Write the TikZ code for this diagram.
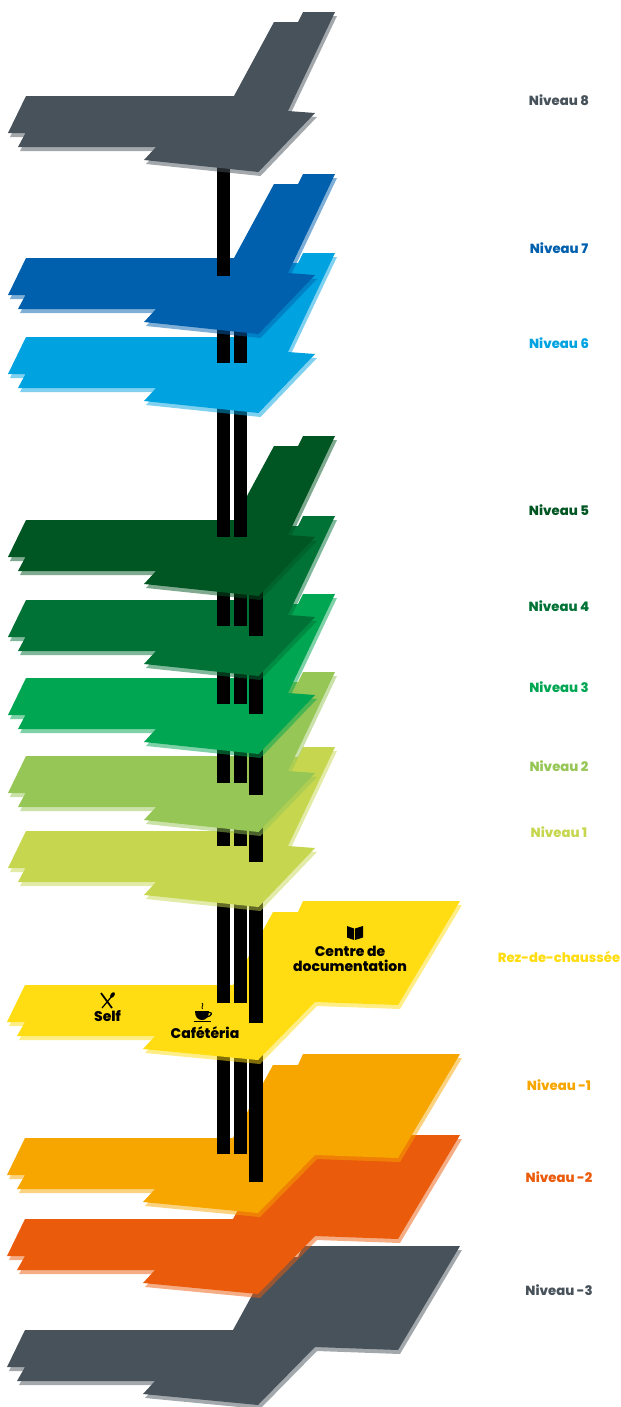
\documentclass[tikz,border=0pt]{standalone}
\usepackage{fontspec}
\setmainfont{Poppins}
\newfontfamily\grasse{Poppins ExtraBold}
\definecolor{ardoise}{HTML}{48525B}
\definecolor{bleufonce}{HTML}{0060AE}
\definecolor{bleuclair}{HTML}{00A3E0}
\definecolor{vertnuit}{HTML}{005622}
\definecolor{vertfonce}{HTML}{007236}
\definecolor{vertvif}{HTML}{00A651}
\definecolor{vertpomme}{HTML}{96C656}
\definecolor{vertanis}{HTML}{C6D74F}
\definecolor{jaune}{HTML}{FFDD12}
\definecolor{orange}{HTML}{F7A600}
\definecolor{rouille}{HTML}{EA5B0C}
% 楼层轮廓
\def\contourhaut{(26,96) -- (234,96) -- (274,22) -- (298,22) -- (303,12) -- (335,12) -- (288,111) -- (315,113) -- (258.5,172) -- (144,160) -- (156,147) -- (18,147) -- (25.5,133) -- (8,133) -- cycle}
\def\contourbas{(25,985) -- (233,985) -- (273,912) -- (298,912) -- (303,901) -- (460,901) -- (398,1005) -- (315,1002) -- (258,1060) -- (143,1049) -- (155,1036) -- (17,1036) -- (25,1022) -- (7,1022) -- cycle}
\newcommand{\etagehaut}[2]{%
  \fill[#2,opacity=0.5,shift={(2,#1+4)}] \contourhaut;
  \fill[#2,shift={(0,#1)}] \contourhaut;}
\newcommand{\etagebas}[2]{%
  \fill[#2,opacity=0.5,shift={(2,#1+4)}] \contourbas;
  \fill[#2,shift={(0,#1)}] \contourbas;}
\tikzset{
  niveau/.style={font=\grasse\fontsize{9.9}{11}\selectfont,inner sep=0pt},
  espace/.style={font=\grasse\fontsize{10.5}{11.25}\selectfont,inner sep=0pt,align=center},
}
\begin{document}
\begin{tikzpicture}[x=0.75pt,y=-0.75pt]
    \useasboundingbox (0,0) rectangle (621,1407);

    % 绘制负三层到负一层
    \etagebas{345}{ardoise} % 负三层
    \etagebas{234}{rouille} % 负二层
    \etagebas{153}{orange} % 负一层

    % 负一层到底层的柱子
    \fill (217,1040) rectangle (230,1154);
    \fill (233.7,1040) rectangle (246.7,1154);
    \fill (249.4,1040) rectangle (262.6,1182);

    % 绘制底层
    \etagebas{0}{jaune}

    % 底层上的图标
    \fill (347,926) -- (354,928.5) -- (354,940) -- (347,937.5) -- cycle; % 书
    \fill (355,928.5) -- (363,926) -- (363,937.5) -- (355,940) -- cycle;
    \draw[line width=1.3pt] (101,993) -- (112,1008); % 刀
    \draw[line width=0.9pt] (112,996) -- (102,1008); % 勺
    \fill (112.5,995) ellipse [x radius=1.9,y radius=3.2,rotate=-35];
    \fill (195,1011) -- (209,1011) .. controls (209,1017) and (206,1020) .. (202,1020) .. controls (198,1020) and (195,1017) .. (195,1011) -- cycle; % 杯子
    \draw[line width=0.9pt] (208,1012.5) .. controls (213,1011.5) and (213,1016) .. (206,1017); % 杯柄
    \draw[line width=0.9pt] (193.5,1021.5) -- (211,1021.5); % 杯碟
    \draw[line width=0.6pt] (202,1003) .. controls (204.5,1005) and (200.5,1006.5) .. (202.5,1009); % 热气

    % 底层上的标签
    \node[espace] (centre) at (350,958.5) {Centre de\\documentation};
    \node[espace] (self) at (107.5,1016) {Self};
    \node[espace] (cafeteria) at (205,1033) {Cafétéria};

    % 底层到一层的柱子
    \fill (217,885) rectangle (230,1003);
    \fill (233.7,885) rectangle (246.7,1003);
    \fill (249.4,885) rectangle (263,1023);
    \etagehaut{735}{vertanis} % 一层

    % 一层到二层的柱子
    \fill (217,810) rectangle (230,846);
    \fill (233.7,810) rectangle (246.7,846);
    \fill (249.4,810) rectangle (262.6,862);
    \etagehaut{660}{vertpomme} % 二层

    % 二层到三层的柱子
    \fill (217,732) rectangle (230,783);
    \fill (233.7,732) rectangle (246.7,783);
    \fill (249.4,732) rectangle (262.6,795);
    \etagehaut{582}{vertvif} % 三层

    % 三层到四层的柱子
    \fill (217,654) rectangle (230,704);
    \fill (233.7,654) rectangle (246.7,704);
    \fill (249.4,654) rectangle (262.6,714);
    \etagehaut{504}{vertfonce} % 四层

    % 四层到五层的柱子
    \fill (217,574) rectangle (230,626);
    \fill (233.7,574) rectangle (246.7,626);
    \fill (249.4,574) rectangle (262.6,636);
    \etagehaut{424}{vertnuit} % 五层

    % 五层到六层的柱子
    \fill (217,391) rectangle (230,537);
    \fill (233.7,391) rectangle (246.7,537);
    \etagehaut{241}{bleuclair} % 六层

    % 六层到七层的柱子
    \fill (217,312) rectangle (230,363);
    \fill (233.7,312) rectangle (246.7,363);
    \etagehaut{162}{bleufonce} % 七层

    % 七层到八层的柱子
    \fill (217,150) rectangle (230,276);
    \etagehaut{0}{ardoise} % 八层

    % 标签
    \node[niveau,text=ardoise] (niveau8) at (559,100) {Niveau 8};
    \node[niveau,text=bleufonce] (niveau7) at (559,248) {Niveau 7};
    \node[niveau,text=bleuclair] (niveau6) at (559,343) {Niveau 6};
    \node[niveau,text=vertnuit] (niveau5) at (559,510) {Niveau 5};
    \node[niveau,text=vertfonce] (niveau4) at (559,606) {Niveau 4};
    \node[niveau,text=vertvif] (niveau3) at (559,687) {Niveau 3};
    \node[niveau,text=vertpomme] (niveau2) at (559,766) {Niveau 2};
    \node[niveau,text=vertanis] (niveau1) at (559,832) {Niveau 1};
    \node[niveau,text=jaune] (rdc) at (559,957) {Rez-de-chaussée};
    \node[niveau,text=orange] (niveaum1) at (559,1085) {Niveau -1};
    \node[niveau,text=rouille] (niveaum2) at (559,1177) {Niveau -2};
    \node[niveau,text=ardoise] (niveaum3) at (559,1290) {Niveau -3};

\end{tikzpicture}
\end{document}
